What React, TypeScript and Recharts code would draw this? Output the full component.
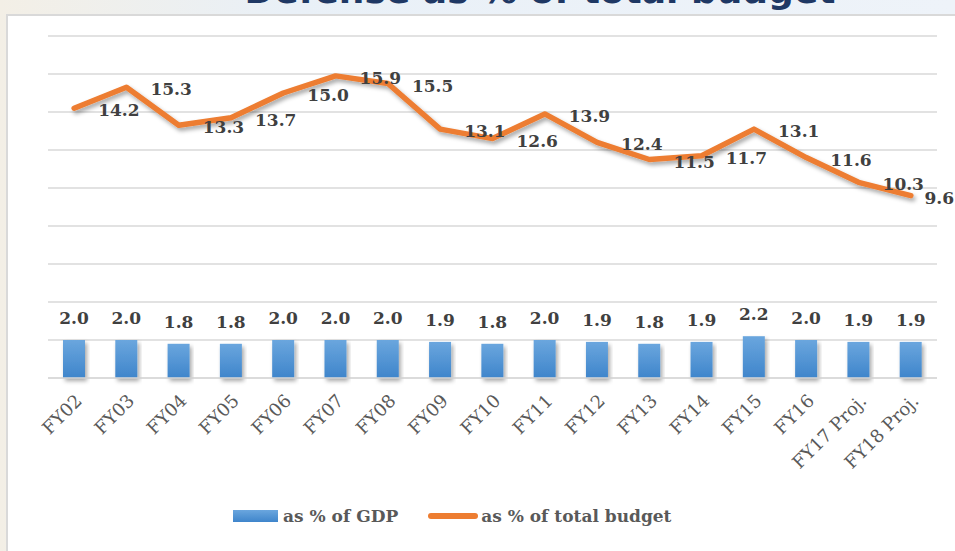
import React from "react";
import {
  ComposedChart,
  Bar,
  Line,
  XAxis,
  YAxis,
  CartesianGrid,
  LabelList,
} from "recharts";

const categories = [
  "FY02", "FY03", "FY04", "FY05", "FY06", "FY07", "FY08", "FY09", "FY10",
  "FY11", "FY12", "FY13", "FY14", "FY15", "FY16", "FY17 Proj.", "FY18 Proj.",
];
const gdpShare = [2.0, 2.0, 1.8, 1.8, 2.0, 2.0, 2.0, 1.9, 1.8, 2.0, 1.9, 1.8, 1.9, 2.2, 2.0, 1.9, 1.9];
const budgetShare = [14.2, 15.3, 13.3, 13.7, 15.0, 15.9, 15.5, 13.1, 12.6, 13.9, 12.4, 11.5, 11.7, 13.1, 11.6, 10.3, 9.6];
const yTicks = [0, 2, 4, 6, 8, 10, 12, 14, 16, 18];

const data = categories.map((name, i) => ({
  name,
  gdp: gdpShare[i],
  budget: budgetShare[i],
}));

const labelFont = "DejaVu Serif";
const chartWidth = 955;

const AxisTick = (props: any) => {
  const { x, y, payload } = props;
  return (
    <text
      transform={`translate(${x + 9},${y + 16}) rotate(-45)`}
      textAnchor="end"
      fill="#595959"
      fontSize={18}
      fontFamily={labelFont}
    >
      {payload.value}
    </text>
  );
};

const BarLabel = (props: any) => {
  const { x, y, width, value } = props;
  return (
    <text
      x={x + width / 2}
      y={y - 16}
      textAnchor="middle"
      fill="#404040"
      fontSize={17}
      fontWeight="bold"
      fontFamily={labelFont}
    >
      {Number(value).toFixed(1)}
    </text>
  );
};

const LineLabel = (props: any) => {
  const { x, y, value } = props;
  const txt = Number(value).toFixed(1);
  const approxW = txt.length * 10.5;
  const overflow = x + 24 + approxW > chartWidth - 1;
  return (
    <text
      x={overflow ? chartWidth - 1 : x + 24}
      y={y + 8}
      textAnchor={overflow ? "end" : "start"}
      fill="#404040"
      fontSize={17}
      fontWeight="bold"
      fontFamily={labelFont}
    >
      {txt}
    </text>
  );
};

const App = () => {
  return (
    <div
      style={{
        position: "absolute",
        left: 0,
        top: 0,
        width: 955,
        height: 551,
        overflow: "hidden",
        background: "linear-gradient(90deg, #f3efe6 0%, #e9f0f7 30%, #eef3f9 100%)",
      }}
    >
      <div
        style={{
          position: "absolute",
          left: 0,
          top: -30,
          width: 1080,
          textAlign: "center",
          fontFamily: "DejaVu Sans",
          fontWeight: "bold",
          fontSize: 36,
          color: "#1f3864",
          whiteSpace: "nowrap",
        }}
      >
        Defense as % of total budget
      </div>
      <div
        style={{
          position: "absolute",
          left: 6,
          top: 14,
          width: 960,
          height: 545,
          background: "#ffffff",
          border: "2px solid #d9d9d9",
        }}
      />
      <div style={{ position: "absolute", left: 0, top: 0 }}>
        <ComposedChart
          width={chartWidth}
          height={551}
          data={data}
          margin={{ top: 36, right: 18, left: 48, bottom: 113 }}
        >
          <defs>
            <linearGradient id="barFill" x1="0" y1="0" x2="0" y2="1">
              <stop offset="0%" stopColor="#6aa6de" />
              <stop offset="100%" stopColor="#3f85cb" />
            </linearGradient>
            <filter id="shadow" x="-10%" y="-20%" width="130%" height="160%">
              <feDropShadow dx="2" dy="3" stdDeviation="2" floodColor="#000" floodOpacity="0.35" />
            </filter>
          </defs>
          <CartesianGrid vertical={false} stroke="#d9d9d9" strokeWidth={1.5} />
          <XAxis
            dataKey="name"
            height={60}
            interval={0}
            tick={<AxisTick />}
            tickLine={false}
            axisLine={{ stroke: "#d9d9d9", strokeWidth: 1.5 }}
          />
          <YAxis hide domain={[0, 18]} ticks={yTicks} />
          <Bar
            dataKey="gdp"
            barSize={22}
            fill="url(#barFill)"
            filter="url(#shadow)"
            isAnimationActive={false}
          >
            <LabelList dataKey="gdp" content={<BarLabel />} />
          </Bar>
          <Line
            type="linear"
            dataKey="budget"
            stroke="#ed7d31"
            strokeWidth={5.5}
            strokeLinecap="round"
            strokeLinejoin="round"
            dot={false}
            filter="url(#shadow)"
            isAnimationActive={false}
          >
            <LabelList dataKey="budget" content={<LineLabel />} />
          </Line>
        </ComposedChart>
      </div>
      <div
        style={{
          position: "absolute",
          left: 233,
          top: 506,
          display: "flex",
          alignItems: "center",
          fontFamily: labelFont,
          fontWeight: "bold",
          fontSize: 17,
          color: "#595959",
        }}
      >
        <span
          style={{
            display: "inline-block",
            width: 45,
            height: 12,
            background: "linear-gradient(#6aa6de, #3f85cb)",
            marginRight: 5,
          }}
        />
        <span>as % of GDP</span>
        <span
          style={{
            display: "inline-block",
            width: 50,
            height: 6,
            borderRadius: 3,
            background: "#ed7d31",
            marginLeft: 30,
            marginRight: 3,
          }}
        />
        <span>as % of total budget</span>
      </div>
    </div>
  );
};

export default App;
